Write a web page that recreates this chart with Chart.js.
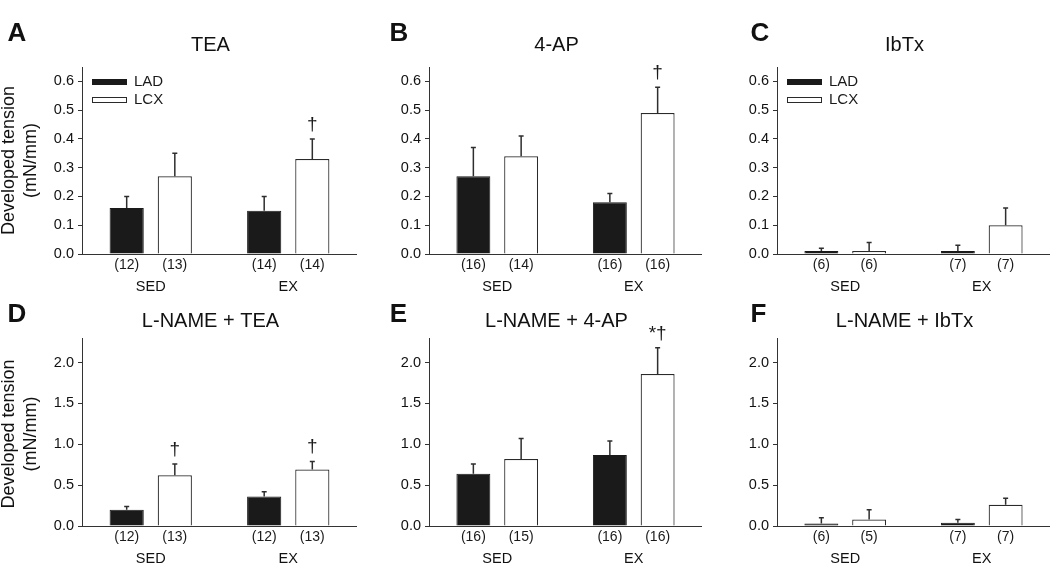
<!DOCTYPE html>
<html>
<head>
<meta charset="utf-8">
<script src="https://cdn.jsdelivr.net/npm/chart.js@4.4.0/dist/chart.umd.min.js"></script>
<style>
  html, body { margin: 0; padding: 0; background: #fff; overflow: hidden; }
  #wrap { position: relative; width: 1050px; height: 563px; }
  .panel { position: absolute; }
</style>
</head>
<body>
<div id="wrap"></div>
<script>
// data
const groups = ['SED', 'EX'];
const panelLetters = ['A', 'B', 'C', 'D', 'E', 'F'];
const panelTitles = ['TEA', '4-AP', 'IbTx', 'L-NAME + TEA', 'L-NAME + 4-AP', 'L-NAME + IbTx'];
const ladMeans = [[0.16, 0.15], [0.27, 0.18], [0.01, 0.01], [0.20, 0.36], [0.64, 0.87], [0.03, 0.04]];
const lcxMeans = [[0.27, 0.33], [0.34, 0.49], [0.01, 0.10], [0.62, 0.69], [0.82, 1.86], [0.08, 0.26]];
const ladSem = [[0.04, 0.05], [0.10, 0.03], [0.01, 0.02], [0.04, 0.06], [0.12, 0.17], [0.07, 0.04]];
const lcxSem = [[0.08, 0.07], [0.07, 0.09], [0.03, 0.06], [0.14, 0.10], [0.25, 0.32], [0.12, 0.08]];
const ladN = [[12, 14], [16, 16], [6, 7], [12, 12], [16, 16], [6, 7]];
const lcxN = [[13, 14], [14, 16], [6, 7], [13, 13], [15, 16], [5, 7]];
const lcxMarks = [['', '†'], ['', '†'], ['', ''], ['†', '†'], ['', '*†'], ['', '']];
const yTicksTop = [0, 0.1, 0.2, 0.3, 0.4, 0.5, 0.6];
const yTicksBottom = [0, 0.5, 1.0, 1.5, 2.0];
const yMaxRow = [0.65, 2.3];
const seriesNames = ['LAD', 'LCX'];

// layout
const colLeft = [0, 347, 695];
const colWidth = [357, 355, 355];
const rowTop = [0, 283];
const rowHeight = [300, 285];
const padTop = [67, 55];
const plotBottom = [254, 243];
const letterX = [[17, 52, 65], [17, 51.5, 63.5]];
const letterY = [34, 31.5];
const titleDy = [-22, -16.5];

const FONT = "'Liberation Sans', Arial, sans-serif";
const INK = '#1a1a1a';
Chart.defaults.font.family = FONT;
Chart.defaults.color = '#1a1a1a';

const extras = {
  id: 'extras',
  afterDatasetsDraw(chart, args, opts) {
    const i = opts.panel;
    const ctx = chart.ctx;
    const y = chart.scales.y;
    const sems = [ladSem[i], lcxSem[i]];
    const ns = [ladN[i], lcxN[i]];
    ctx.save();
    for (let d = 0; d < 2; d++) {
      const meta = chart.getDatasetMeta(d);
      meta.data.forEach((bar, k) => {
        const v = chart.data.datasets[d].data[k];
        const top = y.getPixelForValue(v + sems[d][k]);
        // error bar (upper only)
        ctx.strokeStyle = '#2e2e2e';
        ctx.lineWidth = 1.5;
        ctx.beginPath();
        ctx.moveTo(bar.x, bar.y);
        ctx.lineTo(bar.x, top);
        ctx.moveTo(bar.x - 2.5, top);
        ctx.lineTo(bar.x + 2.5, top);
        ctx.stroke();
        // n under the bar
        ctx.fillStyle = INK;
        ctx.font = '14px ' + FONT;
        ctx.textAlign = 'center';
        ctx.textBaseline = 'middle';
        ctx.fillText('(' + ns[d][k] + ')', bar.x, y.getPixelForValue(0) + 11.5);
        // significance marks
        if (d === 1 && lcxMarks[i][k]) {
          ctx.font = '19px ' + FONT;
          ctx.textBaseline = 'alphabetic';
          ctx.fillText(lcxMarks[i][k], bar.x, top - 9);
        }
      });
    }
    ctx.restore();
  },
  afterDraw(chart, args, opts) {
    const i = opts.panel;
    const row = i < 3 ? 0 : 1;
    const col = i % 3;
    const ctx = chart.ctx;
    const area = chart.chartArea;
    ctx.save();
    ctx.fillStyle = '#111';
    ctx.textAlign = 'center';
    ctx.textBaseline = 'middle';
    ctx.font = 'bold 26px ' + FONT;
    ctx.fillText(panelLetters[i], letterX[row][col], letterY[row]);
    ctx.font = '20px ' + FONT;
    ctx.fillText(panelTitles[i], (area.left + area.right) / 2 - 9, area.top + titleDy[row]);

    if (col === 0) {
      ctx.save();
      ctx.font = '18px ' + FONT;
      ctx.translate(0, (area.top + area.bottom) / 2 + (row ? 2 : 0));
      ctx.rotate(-Math.PI / 2);
      ctx.fillText('Developed tension', 0, 9);
      ctx.fillText('(mN/mm)', 0, 31);
      ctx.restore();
    }

    // legend in A and C
    if (i === 0 || i === 2) {
      const lx = area.left + 10;
      const ly = [area.top + 15, area.top + 33];
      chart.data.datasets.forEach((ds, d) => {
        ctx.fillStyle = ds.backgroundColor;
        ctx.strokeStyle = ds.borderColor;
        ctx.lineWidth = 1;
        ctx.fillRect(lx, ly[d] - 2.5, 35, 5);
        ctx.strokeRect(lx + 0.5, ly[d] - 2.5, 34, 5);
        ctx.fillStyle = INK;
        ctx.font = '15px ' + FONT;
        ctx.textAlign = 'left';
        ctx.fillText(ds.label, lx + 42, ly[d]);
      });
    }
    ctx.restore();
  }
};

const wrap = document.getElementById('wrap');

for (let i = 0; i < 6; i++) {
  const row = i < 3 ? 0 : 1;
  const col = i % 3;
  const div = document.createElement('div');
  div.className = 'panel';
  div.style.left = colLeft[col] + 'px';
  div.style.top = rowTop[row] + 'px';
  const canvas = document.createElement('canvas');
  canvas.width = colWidth[col];
  canvas.height = rowHeight[row];
  div.appendChild(canvas);
  wrap.appendChild(div);

  const tickVals = row === 0 ? yTicksTop : yTicksBottom;

  new Chart(canvas.getContext('2d'), {
    type: 'bar',
    data: {
      labels: groups,
      datasets: [{
        label: seriesNames[0],
        data: ladMeans[i],
        backgroundColor: '#1a1a1a',
        borderColor: '#1a1a1a',
        borderWidth: 1
      }, {
        label: seriesNames[1],
        data: lcxMeans[i],
        backgroundColor: '#ffffff',
        borderColor: '#2a2a2a',
        borderWidth: 1.2
      }]
    },
    options: {
      responsive: false,
      animation: false,
      layout: { padding: { top: padTop[row], left: 0, right: 0, bottom: 0 } },
      datasets: { bar: { categoryPercentage: 0.70, barPercentage: 0.71 } },
      plugins: {
        legend: { display: false },
        title: { display: false },
        tooltip: { enabled: false },
        extras: { panel: i }
      },
      scales: {
        x: {
          grid: { display: false },
          border: { display: true, color: '#333', width: 1 },
          ticks: { font: { size: 14.5 }, color: '#111', padding: 16 },
          afterFit: s => { s.height = rowHeight[row] - plotBottom[row]; }
        },
        y: {
          min: 0,
          max: yMaxRow[row],
          grid: { display: true, drawOnChartArea: false, drawTicks: true, tickLength: 4, color: '#333' },
          border: { display: true, color: '#333', width: 1 },
          ticks: {
            font: { size: 14.5 },
            color: '#111',
            padding: 4,
            callback: v => Number(v).toFixed(1)
          },
          afterBuildTicks: s => { s.ticks = tickVals.map(v => ({ value: v })); },
          afterFit: s => { s.width = 82; }
        }
      }
    },
    plugins: [extras]
  });
}
</script>
</body>
</html>
